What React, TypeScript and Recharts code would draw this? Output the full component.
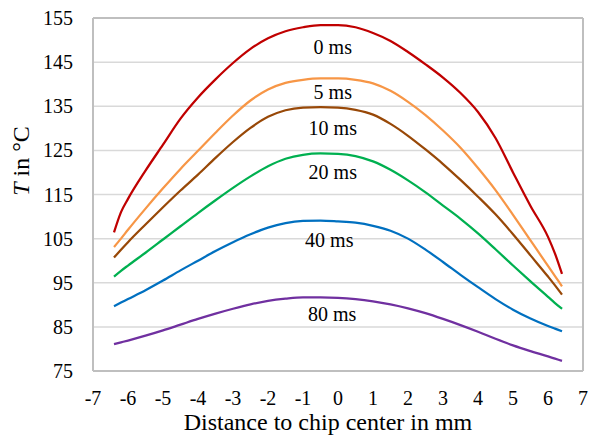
import React from "react"
import { CartesianGrid, Line, LineChart, ReferenceDot, ReferenceLine, XAxis, YAxis } from "recharts"

// positions along the chip, mm
const distance = [-6.4, -6.2, -6, -5.5, -5, -4.5, -4, -3.5, -3, -2.5, -2, -1.5, -1, -0.5, 0, 0.5, 1, 1.5, 2, 2.5, 3, 3.5, 4, 4.5, 5, 5.5, 6, 6.2, 6.4]

// temperature profiles in deg C, one per time after switch-off
const t0 = [106.4, 111.0, 114.0, 120.4, 126.3, 132.2, 137.0, 141.1, 144.8, 148.0, 150.4, 152.0, 152.9, 153.4, 153.4, 152.9, 151.6, 149.8, 147.3, 144.5, 141.5, 138.0, 133.7, 127.8, 120.0, 112.4, 105.4, 101.6, 97.0]
const t5 = [103.1, 105.0, 107.0, 111.8, 116.4, 120.8, 124.9, 129.0, 132.9, 136.3, 138.8, 140.3, 141.0, 141.3, 141.3, 141.0, 140.2, 138.5, 136.0, 133.0, 129.5, 125.6, 121.0, 116.0, 110.4, 104.6, 98.8, 96.5, 94.2]
const t10 = [100.7, 102.5, 104.2, 108.2, 112.1, 115.9, 119.5, 123.3, 126.9, 130.1, 132.6, 134.1, 134.7, 134.8, 134.7, 134.2, 133.1, 131.0, 128.3, 125.2, 121.9, 118.3, 114.5, 110.5, 106.0, 101.2, 96.4, 94.4, 92.3]
const t20 = [96.4, 97.7, 98.9, 101.8, 104.8, 107.8, 110.8, 113.7, 116.5, 119.1, 121.4, 123.1, 124.0, 124.3, 124.2, 123.7, 122.5, 120.6, 118.2, 115.5, 112.5, 109.5, 106.2, 102.6, 98.9, 95.3, 91.8, 90.4, 89.1]
const t40 = [89.7, 90.5, 91.3, 93.3, 95.5, 97.8, 100.0, 102.2, 104.2, 106.0, 107.5, 108.5, 109.0, 109.1, 108.9, 108.6, 107.9, 106.8, 105.0, 102.5, 99.7, 96.8, 94.0, 91.3, 88.9, 86.9, 85.2, 84.6, 84.0]
const t80 = [81.1, 81.5, 81.9, 83.0, 84.2, 85.5, 86.8, 88.0, 89.1, 90.1, 90.9, 91.4, 91.7, 91.7, 91.6, 91.3, 90.8, 90.1, 89.2, 88.1, 86.8, 85.4, 83.9, 82.3, 80.8, 79.5, 78.3, 77.8, 77.3]

const xTicks = [-7, -6, -5, -4, -3, -2, -1, 0, 1, 2, 3, 4, 5, 6, 7]
const yTicks = [75, 85, 95, 105, 115, 125, 135, 145, 155]

// curve captions, placed under each peak
const captionText = ["0 ms", "5 ms", "10 ms", "20 ms", "40 ms", "80 ms"]
const captionX = [-0.15, -0.15, -0.15, -0.15, -0.25, -0.17]
const captionY = [148.5, 138.3, 130.2, 120.1, 104.6, 87.9]

const xTitle = "Distance to chip center in mm"
const yTitleUnit = " in \u00B0C"

const series = [
  { key: "t0", values: t0, color: "#C00000" },
  { key: "t5", values: t5, color: "#F79646" },
  { key: "t10", values: t10, color: "#984807" },
  { key: "t20", values: t20, color: "#00B050" },
  { key: "t40", values: t40, color: "#0070C0" },
  { key: "t80", values: t80, color: "#7030A0" },
]

const data = distance.map((d, i) => {
  const row: Record<string, number> = { d }
  series.forEach((s) => (row[s.key] = s.values[i]))
  return row
})

const font = "Liberation Serif"
const frame = "#bfbfbf"

export default function App() {
  return (
    <div style={{ position: "absolute", left: 0, top: 0, background: "#fff", fontFamily: font }}>
      <LineChart width={589} height={436} data={data} margin={{ top: 18, right: 6, bottom: 0, left: 0 }}>
        <CartesianGrid vertical={false} stroke="#d9d9d9" strokeWidth={1.5} />
        <XAxis
          dataKey="d"
          type="number"
          domain={[-7, 7]}
          ticks={xTicks}
          height={65}
          axisLine={false}
          tickLine={false}
          tickMargin={14}
          tick={{ fill: "#000", fontSize: 20, fontFamily: font }}
        />
        <YAxis
          type="number"
          domain={[75, 155]}
          ticks={yTicks}
          width={93}
          axisLine={false}
          tickLine={false}
          tickMargin={14}
          tick={{ fill: "#000", fontSize: 20, fontFamily: font }}
        />
        {/* plot frame */}
        <ReferenceLine y={155} stroke={frame} strokeWidth={2} />
        <ReferenceLine y={75} stroke={frame} strokeWidth={2} />
        <ReferenceLine x={-7} stroke={frame} strokeWidth={2} />
        <ReferenceLine x={7} stroke={frame} strokeWidth={2} />
        {series.map((s) => (
          <Line
            key={s.key}
            dataKey={s.key}
            type="monotone"
            stroke={s.color}
            strokeWidth={2.25}
            dot={false}
            isAnimationActive={false}
          />
        ))}
        {captionText.map((t, i) => (
          <ReferenceDot
            key={t}
            x={captionX[i]}
            y={captionY[i]}
            r={0}
            fill="none"
            stroke="none"
            label={{ value: t, position: "center", fontSize: 20, fontFamily: font, fill: "#000" }}
          />
        ))}
        {/* axis titles */}
        <text x={328} y={430} textAnchor="middle" fontSize={24} fontFamily={font} fill="#000">
          {xTitle}
        </text>
        <text
          x={0}
          y={0}
          transform="translate(29,161) rotate(-90)"
          textAnchor="middle"
          fontSize={24}
          fontFamily={font}
          fill="#000"
        >
          <tspan fontStyle="italic">T</tspan>
          {yTitleUnit}
        </text>
      </LineChart>
    </div>
  )
}
